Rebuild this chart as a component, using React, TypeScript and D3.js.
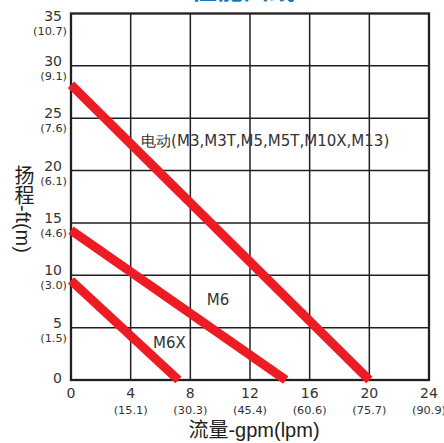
import * as d3 from 'd3';
import { useEffect, useRef } from 'react';

// flow (gpm) ticks with lpm equivalents
const xTicks = [0, 4, 8, 12, 16, 20, 24];
const xSubLabels = ['', '(15.1)', '(30.3)', '(45.4)', '(60.6)', '(75.7)', '(90.9)'];

// head (ft) ticks with metre equivalents
const yTicks = [0, 5, 10, 15, 20, 25, 30, 35];
const ySubLabels = ['', '(1.5)', '(3.0)', '(4.6)', '(6.1)', '(7.6)', '(9.1)', '(10.7)'];

const seriesNames = ['电动(M3,M3T,M5,M5T,M10X,M13)', 'M6', 'M6X'];
const electricCurve: [number, number][] = [
  [0, 28.2],
  [20, 0],
];
const m6Curve: [number, number][] = [
  [0, 14.3],
  [14.4, 0],
];
const m6xCurve: [number, number][] = [
  [0, 9.5],
  [7.2, 0],
];
// where each series name sits (gpm, ft)
const labelAnchors: [number, number][] = [
  [4.7, 22.3],
  [9.1, 7.2],
  [5.5, 3.1],
];

const red = '#ed1c24';
const ink = '#231f20';
const textInk = '#333333';
const font = '"DejaVu Sans", sans-serif';

export default function App() {
  const ref = useRef<SVGSVGElement | null>(null);

  useEffect(() => {
    if (!ref.current) return;
    const width = 444;
    const height = 443;
    const left = 71;
    const right = 429;
    const top = 13.5;
    const bottom = 380;

    const svg = d3.select(ref.current);
    svg.selectAll('*').remove();
    svg.attr('width', width).attr('height', height).attr('viewBox', [0, 0, width, height]);

    const x = d3.scaleLinear().domain([0, 24]).range([left, right]);
    const y = d3.scaleLinear().domain([0, 35]).range([bottom, top]);

    // title, mostly cut off at the top edge
    svg
      .append('text')
      .attr('x', 243)
      .attr('y', -1)
      .attr('text-anchor', 'middle')
      .attr('font-family', '"Noto Sans CJK SC", sans-serif')
      .attr('font-size', 26)
      .attr('font-weight', 'bold')
      .attr('fill', '#1b75bc')
      .text('性能曲线');

    // grid
    const grid = svg.append('g').attr('stroke', ink).attr('stroke-width', 1.5);
    grid
      .selectAll('line.v')
      .data(xTicks.slice(1, -1))
      .join('line')
      .attr('x1', (d) => x(d))
      .attr('x2', (d) => x(d))
      .attr('y1', top)
      .attr('y2', bottom);
    grid
      .selectAll('line.h')
      .data(yTicks.slice(1, -1))
      .join('line')
      .attr('x1', left)
      .attr('x2', right)
      .attr('y1', (d) => y(d))
      .attr('y2', (d) => y(d));

    svg
      .append('rect')
      .attr('x', left)
      .attr('y', top)
      .attr('width', right - left)
      .attr('height', bottom - top)
      .attr('fill', 'none')
      .attr('stroke', ink)
      .attr('stroke-width', 2.3);

    // curves
    const line = d3
      .line<[number, number]>()
      .x((d) => x(d[0]))
      .y((d) => y(d[1]));
    svg
      .append('g')
      .selectAll('path')
      .data([electricCurve, m6Curve, m6xCurve])
      .join('path')
      .attr('d', line)
      .attr('fill', 'none')
      .attr('stroke', red)
      .attr('stroke-width', 9);

    // series labels
    svg
      .append('g')
      .selectAll('text')
      .data(seriesNames)
      .join('text')
      .attr('x', (_, i) => x(labelAnchors[i][0]))
      .attr('y', (_, i) => y(labelAnchors[i][1]))
      .attr('font-family', font)
      .attr('font-size', 15)
      .attr('fill', textInk)
      .text((d) => d);

    // y tick labels
    const yl = svg.append('g').attr('font-family', font).attr('fill', textInk).attr('text-anchor', 'end');
    yl.selectAll('text.main')
      .data(yTicks)
      .join('text')
      .attr('x', 62)
      .attr('y', (d) => Math.max(y(d) + (d === 0 ? 3 : 0), 21))
      .attr('font-size', 14)
      .text((d) => d);
    yl.selectAll('text.sub')
      .data(yTicks.filter((d) => d > 0))
      .join('text')
      .attr('x', 67)
      .attr('y', (d) => Math.max(y(d), 21) + 14)
      .attr('font-size', 11.3)
      .text((d) => ySubLabels[yTicks.indexOf(d)]);

    // x tick labels
    const xl = svg.append('g').attr('font-family', font).attr('fill', textInk).attr('text-anchor', 'middle');
    xl.selectAll('text.main')
      .data(xTicks)
      .join('text')
      .attr('x', (d) => x(d))
      .attr('y', 398)
      .attr('font-size', 14)
      .text((d) => d);
    xl.selectAll('text.sub')
      .data(xTicks.filter((d) => d > 0))
      .join('text')
      .attr('x', (d) => x(d))
      .attr('y', 414)
      .attr('font-size', 11.3)
      .text((d) => xSubLabels[xTicks.indexOf(d)]);

    // axis titles
    svg
      .append('text')
      .attr('x', 254)
      .attr('y', 437)
      .attr('text-anchor', 'middle')
      .attr('font-family', '"Liberation Sans", "Noto Sans CJK SC", sans-serif')
      .attr('font-size', 20)
      .attr('fill', ink)
      .text('流量-gpm(lpm)');

    svg
      .append('text')
      .attr('x', 23)
      .attr('y', 209)
      .attr('text-anchor', 'middle')
      .style('writing-mode', 'vertical-rl')
      .attr('font-family', '"Liberation Sans", "Noto Sans CJK SC", sans-serif')
      .attr('font-size', 20)
      .attr('fill', ink)
      .text('扬程-ft(m)');
  }, []);

  return (
    <div style={{ position: 'absolute', left: 0, top: 0, background: '#fff' }}>
      <svg ref={ref} style={{ display: 'block' }} />
    </div>
  );
}
